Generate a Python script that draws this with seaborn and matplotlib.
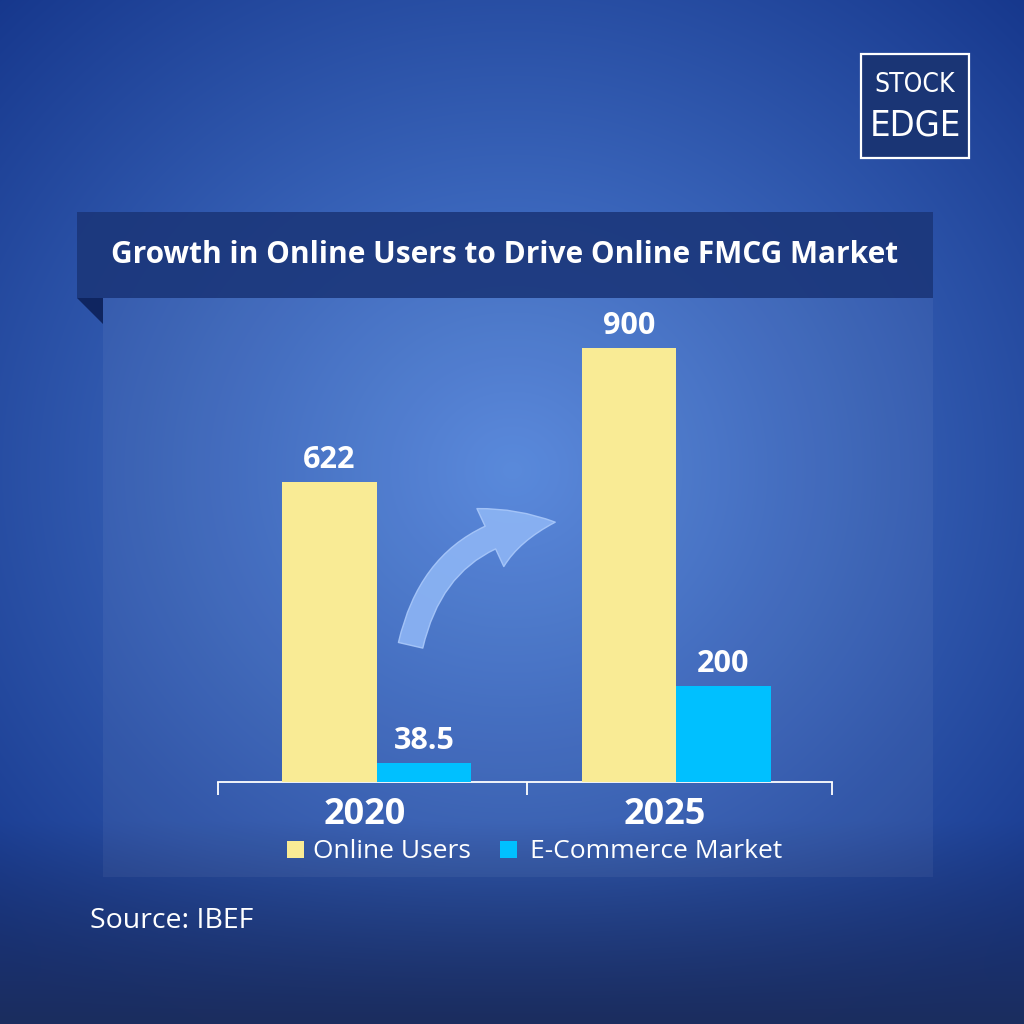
import numpy as np
import pandas as pd
import matplotlib
matplotlib.use("Agg")
import matplotlib.pyplot as plt
import seaborn as sns
from matplotlib.patches import Rectangle, Polygon, FancyArrowPatch

# ---- data ----
years = ["2020", "2025"]
series = ["Online Users", "E-Commerce Market"]
online_users = [622, 900]
ecommerce = [38.5, 200]
value_labels_online = ["622", "900"]
value_labels_ecom = ["38.5", "200"]
title = "Growth in Online Users to Drive Online FMCG Market"
source = "Source: IBEF"

colors = ["#F9EB95", "#00C0FF"]

sns.set_theme(style="white")
plt.rcParams['font.family'] = ['Open Sans', 'DejaVu Sans']

W = H = 1024
fig = plt.figure(figsize=(10.24, 10.24), dpi=100)

# ---- background gradient ----
bg = fig.add_axes([0, 0, 1, 1])
bg.set_axis_off()
yy, xx = np.mgrid[0:H, 0:W]
r = np.sqrt(((xx - 512) / 560.0) ** 2 + ((yy - 470) / 520.0) ** 2)
t = np.clip(r, 0, 1.3) / 1.3
c_center = np.array([82, 132, 218]) / 255
c_edge = np.array([22, 55, 140]) / 255
img = c_center[None, None, :] * (1 - t[..., None]) + c_edge[None, None, :] * t[..., None]
bot = np.clip((yy - 820) / 200.0, 0, 1)[..., None]
c_bot = np.array([27, 45, 95]) / 255
img = img * (1 - bot) + c_bot[None, None, :] * bot
bg.imshow(img, extent=[0, W, H, 0], aspect='auto', zorder=0)
bg.set_xlim(0, W)
bg.set_ylim(H, 0)

# panel
bg.add_patch(Rectangle((103, 298), 830, 579, facecolor='white', alpha=0.05, edgecolor='none', zorder=1))
# title banner
bg.add_patch(Rectangle((77, 212), 856, 86, facecolor='#1b3679', alpha=0.88, edgecolor='none', zorder=2))
bg.add_patch(Polygon([(77, 298), (103, 298), (103, 324)], closed=True, facecolor='#0f2560', edgecolor='none', zorder=2))
bg.text(505, 255, title, color='white', fontsize=21.5, fontweight='bold', ha='center', va='center', zorder=3)

# logo
bg.add_patch(Rectangle((861, 54), 108, 104, facecolor='#1a3575', edgecolor='white', linewidth=1.6, zorder=3))
bg.text(915, 85, "STOCK", color='white', fontsize=19, ha='center', va='center', zorder=4,
        family='DejaVu Sans', fontstretch='condensed', fontweight='light')
bg.text(915, 126, "EDGE", color='white', fontsize=26, ha='center', va='center', zorder=4,
        family='DejaVu Sans', fontstretch='condensed', fontweight='light')

# source
bg.text(90, 921, source, color='white', fontsize=20.5, ha='left', va='center', zorder=3)

# curved arrow decoration
arr = FancyArrowPatch((410, 648), (558, 522), connectionstyle="arc3,rad=-0.38",
                      arrowstyle="simple,head_width=46,head_length=48,tail_width=18",
                      facecolor='#8db5f5', edgecolor='#a9c8fa', alpha=0.9, linewidth=1, zorder=3)
bg.add_patch(arr)

# ---- chart ----
df = pd.DataFrame({
    "year": years * 2,
    "series": [series[0]] * 2 + [series[1]] * 2,
    "value": online_users + ecommerce,
})

ax = fig.add_axes([218 / W, 1 - 782 / H, (832 - 218) / W, (782 - 300) / H])
ax.patch.set_alpha(0)
sns.barplot(data=df, x="year", y="value", hue="series", palette=colors, width=0.63,
            gap=0, saturation=1, ax=ax, legend=False, zorder=5, linewidth=0, edgecolor='none')
ax.set_xlim(-0.53, 1.52)
ax.set_ylim(0, 1000)
for s in ["top", "right", "left"]:
    ax.spines[s].set_visible(False)
ax.spines["bottom"].set_color('white')
ax.spines["bottom"].set_linewidth(1.3)
ax.set_xlabel("")
ax.set_ylabel("")
ax.set_yticks([])
ax.set_xticks([-0.53, 0.503, 1.52])
ax.set_xticklabels([])
ax.tick_params(axis='x', direction='out', length=9, width=1.3, color='white', bottom=True)

labels_sets = [value_labels_online, value_labels_ecom]
for cont, labs in zip(ax.containers, labels_sets):
    ax.bar_label(cont, labels=labs, padding=5, color='white', fontsize=22, fontweight='bold')

for i, y in enumerate(years):
    ax.text(i - 0.04, -68, y, transform=ax.transData, color='white', fontsize=26,
            fontweight='bold', ha='center', va='center', clip_on=False)

# legend
bg.add_patch(Rectangle((287, 841), 17, 17, facecolor=colors[0], edgecolor='none', zorder=4))
bg.text(313, 851, series[0], color='white', fontsize=19, ha='left', va='center', zorder=4)
bg.add_patch(Rectangle((500, 841), 17, 17, facecolor=colors[1], edgecolor='none', zorder=4))
bg.text(530, 851, series[1], color='white', fontsize=19, ha='left', va='center', zorder=4)

fig.savefig("out.png", dpi=100)
